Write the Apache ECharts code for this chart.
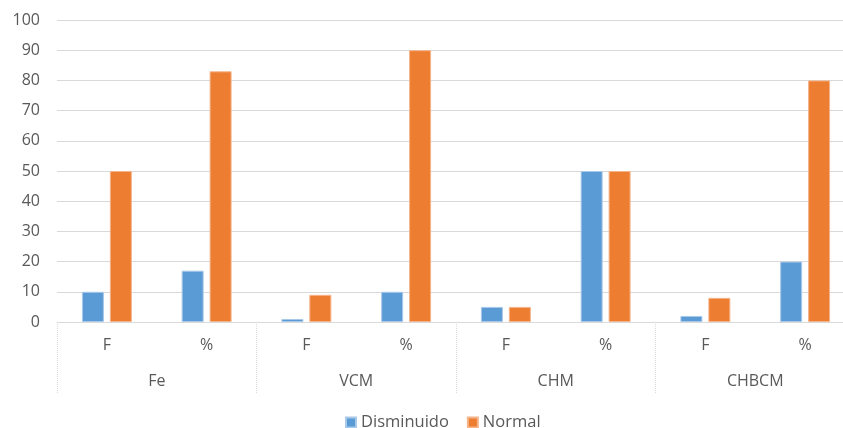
<!DOCTYPE html>
<html><head><meta charset="utf-8">
<script src="https://cdn.jsdelivr.net/npm/echarts@6/dist/echarts.min.js"></script>
<style>html,body{margin:0;padding:0;background:#fff;overflow:hidden;width:843px;height:428px}#c{width:855px;height:428px}</style>
</head><body><div id="c"></div>
<script>
const categories = ['F','%','F','%','F','%','F','%'];
const groups = ['Fe','VCM','CHM','CHBCM'];
const disminuido = [10,17,1,10,5,50,2,20];
const normal = [50,83,9,90,5,50,8,80];
const yTicks = {min:0,max:100,interval:10};

const font = '"Open Sans", "Noto Sans", sans-serif';
const chart = echarts.init(document.getElementById('c'));
chart.setOption({
  animation:false,
  textStyle:{fontFamily:font},
  grid:{left:57, top:20, right:0, height:302},
  legend:{
    top:409, left:340, icon:'rect', itemWidth:10, itemHeight:10, itemGap:18,
    textStyle:{fontSize:16.5, color:'#595959', fontFamily:font},
    data:['Disminuido','Normal']
  },
  xAxis:[
    {type:'category', data:categories, position:'bottom',
     axisLine:{lineStyle:{color:'#d9d9d9'}}, axisTick:{show:false},
     axisLabel:{fontSize:16, color:'#595959', margin:15, interval:0}},
    {type:'category', data:groups, position:'bottom', offset:71,
     axisLine:{show:false},
     axisTick:{show:true, inside:true, length:71, lineStyle:{color:'#d9d9d9', type:'dotted'}},
     axisLabel:{inside:true, margin:4, fontSize:16, color:'#595959', interval:0}}
  ],
  yAxis:{type:'value', min:yTicks.min, max:yTicks.max, interval:yTicks.interval,
    axisLine:{show:false}, axisTick:{show:false},
    splitLine:{lineStyle:{color:'#d9d9d9'}},
    axisLabel:{fontSize:16, color:'#595959', margin:17}},
  series:[
    {name:'Disminuido', type:'bar', data:disminuido, xAxisIndex:0, barWidth:22, barGap:'27%',
     itemStyle:{color:'#5b9bd5', borderColor:'#a9c9ea', borderWidth:1}},
    {name:'Normal', type:'bar', data:normal, xAxisIndex:0, barWidth:22, barGap:'27%',
     itemStyle:{color:'#ed7d31', borderColor:'#f5b48a', borderWidth:1}}
  ]
});
</script></body></html>
